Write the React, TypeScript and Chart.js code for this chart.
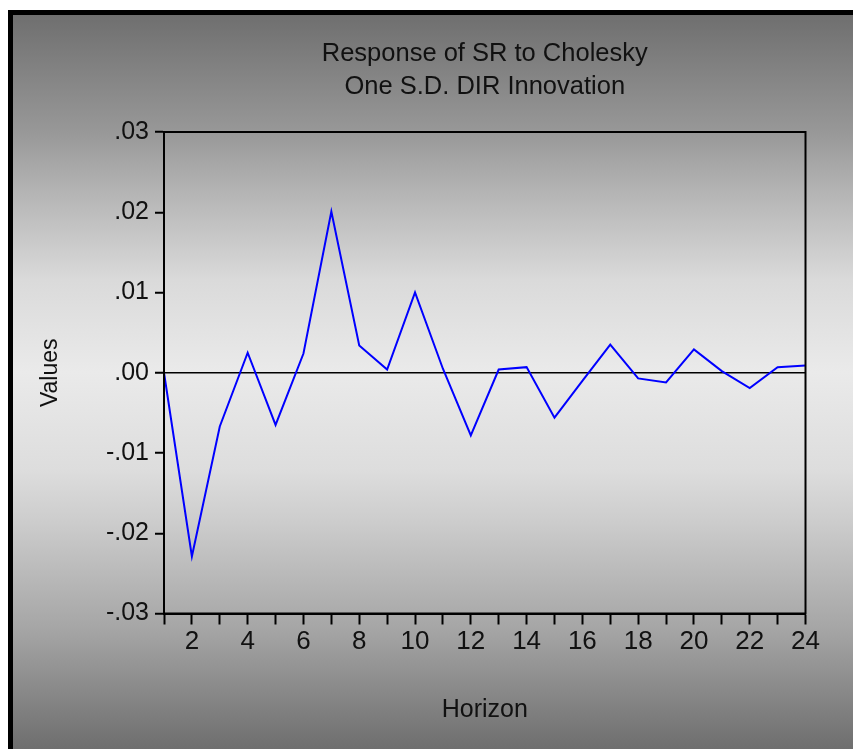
import { useEffect, useRef } from 'react';
import { Chart, registerables } from 'chart.js';

Chart.register(...registerables);

// Impulse response of SR to a one S.D. DIR shock, horizons 1..24
const horizons = [1, 2, 3, 4, 5, 6, 7, 8, 9, 10, 11, 12, 13, 14, 15, 16, 17, 18, 19, 20, 21, 22, 23, 24];
const responses = [
  0.0, -0.0229, -0.0067, 0.0025, -0.0065, 0.0024, 0.0201, 0.0034, 0.0004, 0.01, 0.0005, -0.0078,
  0.0004, 0.0007, -0.0056, -0.001, 0.0035, -0.0007, -0.0012, 0.0029, 0.0002, -0.0019, 0.0007, 0.0009,
];
const yTickValues = [-0.03, -0.02, -0.01, 0, 0.01, 0.02, 0.03];
const titleLines = ['Response of SR to Cholesky', 'One S.D. DIR Innovation'];
const yAxisTitle = 'Values';
const xAxisTitle = 'Horizon';

const FONT = '"Liberation Sans", Arial, Helvetica, sans-serif';

const fmtY = (v: number) => {
  if (Math.abs(v) < 1e-9) return '.00';
  return v.toFixed(2).replace(/^(-?)0\./, '$1.');
};

// Heading lines and the closed frame around the plotting area
const framePlugin = {
  id: 'frameAndHeading',
  afterDraw(chart: any) {
    const { ctx, chartArea } = chart;
    ctx.save();
    ctx.strokeStyle = '#000';
    ctx.lineWidth = 2;
    ctx.strokeRect(chartArea.left, chartArea.top, chartArea.right - chartArea.left, chartArea.bottom - chartArea.top);
    ctx.fillStyle = '#111';
    ctx.font = `25.5px ${FONT}`;
    ctx.textAlign = 'center';
    ctx.textBaseline = 'alphabetic';
    const cx = (chartArea.left + chartArea.right) / 2;
    titleLines.forEach((line, i) => ctx.fillText(line, cx, 61 + i * 33));
    ctx.restore();
  },
};

export default function App() {
  const canvasRef = useRef<HTMLCanvasElement | null>(null);

  useEffect(() => {
    const canvas = canvasRef.current;
    if (!canvas) return;
    const chart = new Chart(canvas, {
      type: 'line',
      data: {
        datasets: [
          {
            data: horizons.map((h, i) => ({ x: h, y: responses[i] })),
            borderColor: '#0000ff',
            borderWidth: 2,
            pointRadius: 0,
            tension: 0,
            fill: false,
          },
        ],
      },
      options: {
        responsive: false,
        animation: false,
        events: [],
        layout: { padding: { top: 132, right: 47.5, left: 0, bottom: 0 } },
        plugins: {
          legend: { display: false },
          title: { display: false },
          tooltip: { enabled: false },
        },
        scales: {
          x: {
            type: 'linear',
            min: 1,
            max: 24,
            afterBuildTicks: (scale: any) => {
              scale.ticks = horizons.map((v) => ({ value: v }));
            },
            afterFit: (scale: any) => {
              scale.height = 135.5;
            },
            ticks: {
              autoSkip: false,
              maxRotation: 0,
              padding: 2,
              color: '#111',
              font: { family: FONT, size: 26 },
              callback: (v: any) => (Number(v) % 2 === 0 ? String(v) : ''),
            },
            grid: {
              drawOnChartArea: false,
              drawTicks: true,
              tickLength: 11,
              tickColor: '#000',
              tickWidth: 2,
            },
            border: { display: true, color: '#000', width: 2 },
            title: {
              display: true,
              text: xAxisTitle,
              color: '#111',
              font: { family: FONT, size: 25 },
              padding: { top: 0, bottom: 24 },
            },
          },
          y: {
            type: 'linear',
            min: -0.03,
            max: 0.03,
            afterBuildTicks: (scale: any) => {
              scale.ticks = yTickValues.map((v) => ({ value: v }));
            },
            afterFit: (scale: any) => {
              scale.width = 164;
            },
            ticks: {
              padding: 6,
              color: '#111',
              font: { family: FONT, size: 25 },
              callback: (v: any) => fmtY(Number(v)),
            },
            grid: {
              drawOnChartArea: true,
              color: (c: any) => (Math.abs(c.tick?.value ?? 1) < 1e-9 ? '#000' : 'rgba(0,0,0,0)'),
              lineWidth: 1.5,
              drawTicks: true,
              tickLength: 9,
              tickColor: '#000',
              tickWidth: 2,
            },
            border: { display: true, color: '#000', width: 2 },
            title: {
              display: true,
              text: yAxisTitle,
              color: '#111',
              font: { family: FONT, size: 23 },
              padding: { top: 37, bottom: 0 },
            },
          },
        },
      },
      plugins: [framePlugin],
    } as any);
    return () => chart.destroy();
  }, []);

  return (
    <>
      <div
        style={{
          position: 'absolute',
          left: 8,
          top: 10,
          width: 845,
          height: 739,
          boxSizing: 'border-box',
          borderTop: '5px solid #000',
          borderLeft: '5px solid #000',
          background:
            'linear-gradient(to bottom, #6f6f6f 0%, #989898 16%, #b3b3b3 23.8%, #dadada 36.1%, #eaeaea 48.6%, #dddddd 62%, #cdcdcd 68.8%, #a5a5a5 83.8%, #6e6e6e 100%)',
        }}
      />
      <canvas
        ref={canvasRef}
        width={853}
        height={749}
        style={{ position: 'absolute', left: 0, top: 0, width: 853, height: 749 }}
      />
    </>
  );
}
